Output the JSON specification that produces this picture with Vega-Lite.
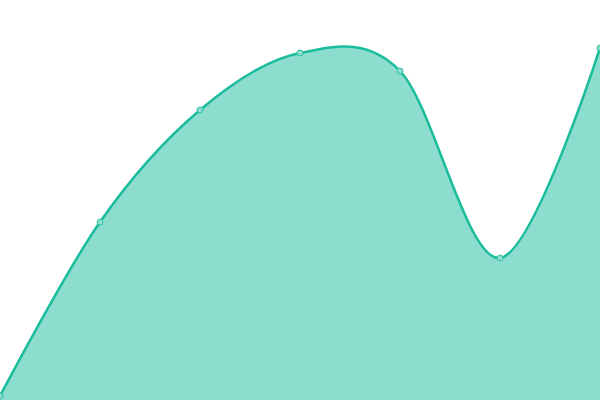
{
  "$schema": "https://vega.github.io/schema/vega-lite/v6.json",
  "width": 600,
  "height": 400,
  "padding": 0,
  "autosize": {"type": "none"},
  "background": "white",
  "config": {"view": {"stroke": null}},
  "data": {
    "values": [
      {"x": 0, "y": 1},
      {"x": 1, "y": 44.5},
      {"x": 2, "y": 72.5},
      {"x": 3, "y": 86.75},
      {"x": 4, "y": 82.25},
      {"x": 5, "y": 35.5},
      {"x": 6, "y": 88}
    ]
  },
  "encoding": {
    "x": {"field": "x", "type": "quantitative", "axis": null, "scale": {"domain": [0, 6], "nice": false, "zero": false}},
    "y": {"field": "y", "type": "quantitative", "axis": null, "scale": {"domain": [0, 100], "nice": false}}
  },
  "layer": [
    {"mark": {"type": "area", "interpolate": "cardinal", "color": "#1abc9c", "opacity": 0.5, "clip": true}},
    {"mark": {"type": "line", "interpolate": "cardinal", "color": "#1abc9c", "strokeWidth": 2.5, "clip": true}},
    {"mark": {"type": "point", "filled": true, "fill": "#8cddcd", "stroke": "#2cc2a4", "strokeWidth": 1, "size": 36, "opacity": 1}}
  ]
}
